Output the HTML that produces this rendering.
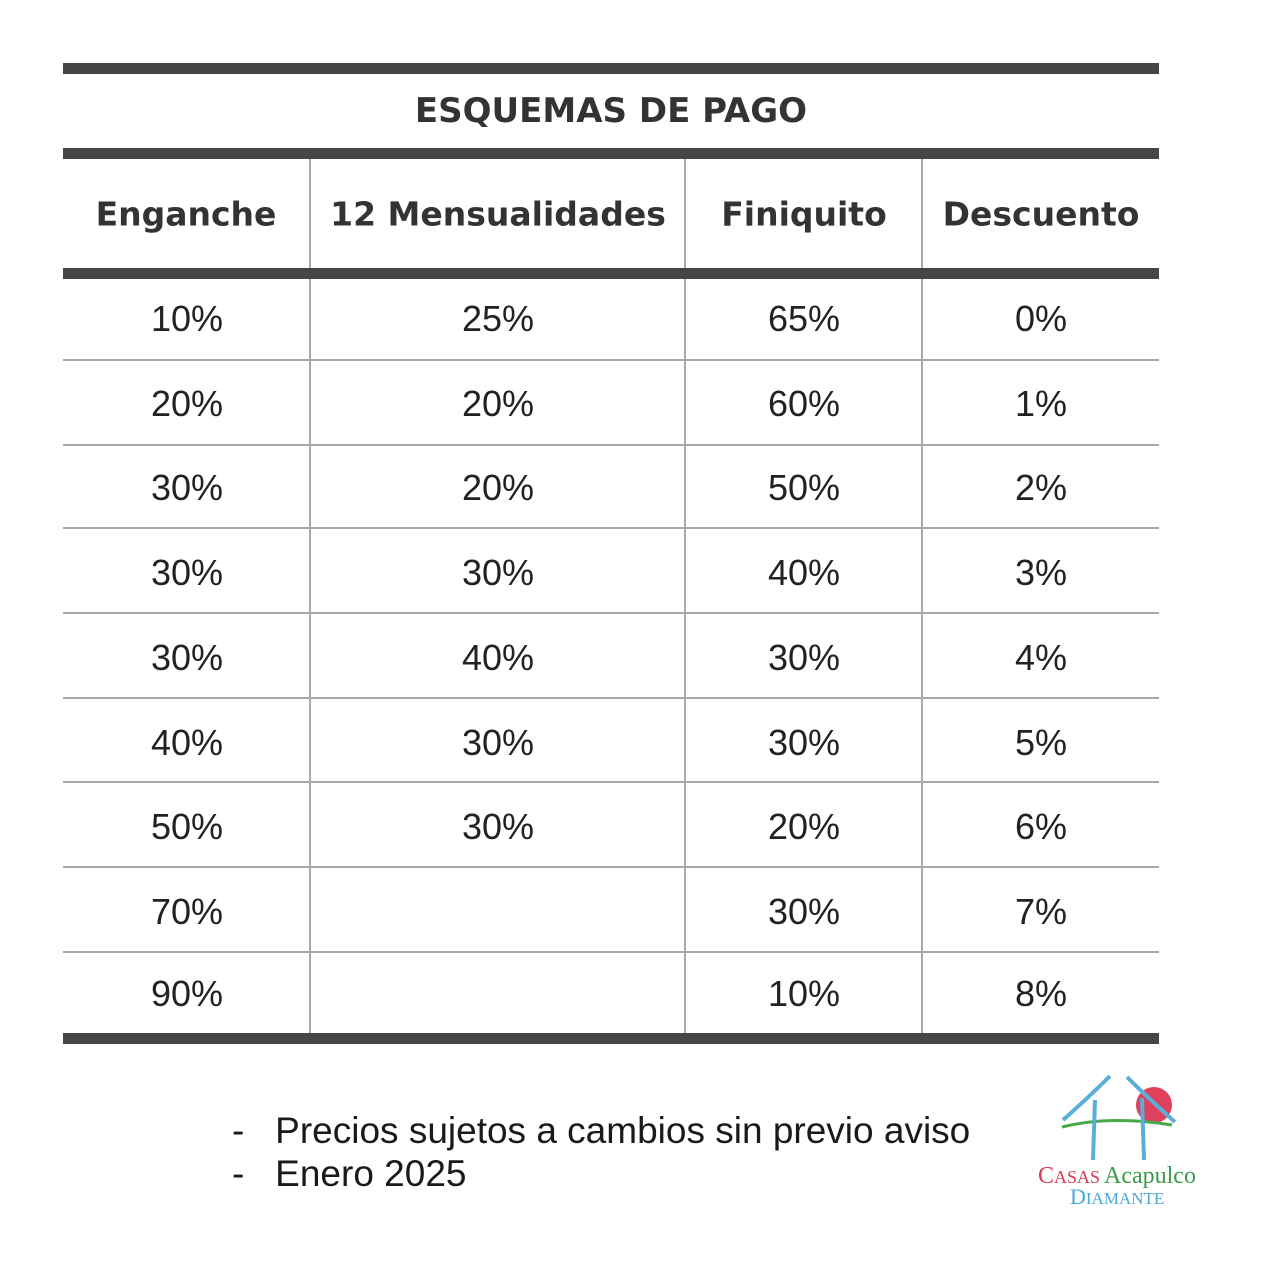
<!DOCTYPE html>
<html><head><meta charset="utf-8"><style>
body{margin:0;background:#fff;width:1274px;height:1280px;position:relative;overflow:hidden;font-family:"Liberation Sans","DejaVu Sans",sans-serif;color:#2a2a2a}
.bar{position:absolute;left:63px;width:1096px;height:11px;background:#454545}
.h{position:absolute;left:63px;width:1096px;height:2px;background:#a8a8a8}
.v{position:absolute;width:2px;background:#a8a8a8;top:159px;height:874px}
.t{position:absolute;transform:translate(-50%,-50%);white-space:nowrap}
.c{font-size:36px;color:#222}
.hd{font-size:33px;font-weight:bold;color:#333;font-family:"DejaVu Sans","Liberation Sans",sans-serif}
</style></head><body>
<div class="bar" style="top:63px"></div>
<div class="bar" style="top:148px"></div>
<div class="bar" style="top:268px"></div>
<div class="bar" style="top:1033px"></div>
<div class="v" style="left:309px;top:159px;height:109px"></div>
<div class="v" style="left:684px;top:159px;height:109px"></div>
<div class="v" style="left:921px;top:159px;height:109px"></div>
<div class="v" style="left:309px;top:279px;height:754px"></div>
<div class="v" style="left:684px;top:279px;height:754px"></div>
<div class="v" style="left:921px;top:279px;height:754px"></div>
<div class="h" style="top:359px"></div><div class="h" style="top:444px"></div><div class="h" style="top:527px"></div><div class="h" style="top:612px"></div><div class="h" style="top:697px"></div><div class="h" style="top:781px"></div><div class="h" style="top:866px"></div><div class="h" style="top:951px"></div>
<div class="t hd" style="left:611px;top:111px;font-size:34px">ESQUEMAS DE PAGO</div>
<div class="t hd" style="left:186px;top:214px">Enganche</div>
<div class="t hd" style="left:498px;top:214px">12 Mensualidades</div>
<div class="t hd" style="left:804px;top:214px">Finiquito</div>
<div class="t hd" style="left:1041px;top:214px">Descuento</div>
<div id="rows"></div>
<script>
var d=[["10%","25%","65%","0%"],["20%","20%","60%","1%"],["30%","20%","50%","2%"],["30%","30%","40%","3%"],["30%","40%","30%","4%"],["40%","30%","30%","5%"],["50%","30%","20%","6%"],["70%","","30%","7%"],["90%","","10%","8%"]];
var ys=[319,404,488,573,658,743,827,912,994],xs=[187,498,804,1041],h="";
d.forEach(function(r,i){r.forEach(function(v,j){if(v)h+='<div class="t c" style="left:'+xs[j]+'px;top:'+ys[i]+'px">'+v+'</div>';});});
document.getElementById("rows").innerHTML=h;
</script>
<div style="position:absolute;left:232px;top:1109px;font-size:37px;line-height:43px;color:#1a1a1a">
<div>-&nbsp;&nbsp;&nbsp;Precios sujetos a cambios sin previo aviso</div>
<div>-&nbsp;&nbsp;&nbsp;Enero 2025</div></div>
<svg style="position:absolute;left:1030px;top:1070px" width="190" height="140">
<circle cx="124" cy="35" r="18" fill="#e0405a"/>
<path d="M80 6 Q58 28 33 50" stroke="#5aafd8" stroke-width="4" fill="none"/>
<path d="M97 7 Q120 30 145 52" stroke="#5aafd8" stroke-width="4" fill="none"/>
<path d="M32 57 Q80 45 142 55" stroke="#4aa84a" stroke-width="3" fill="none"/>
<path d="M65 30 L63 90" stroke="#5aafd8" stroke-width="4"/>
<path d="M112 28 L114 90" stroke="#5aafd8" stroke-width="4"/>
<text x="8" y="113" font-family="Liberation Serif,serif" font-size="24" fill="#d63a55">C<tspan font-size="18">ASAS</tspan></text>
<text x="74" y="113" font-family="Liberation Serif,serif" font-size="24" fill="#3a9a4a">Acapulco</text>
<text x="40" y="134" font-family="Liberation Serif,serif" font-size="22" fill="#4aa8d8">D<tspan font-size="17">IAMANTE</tspan></text>
</svg>
</body></html>
